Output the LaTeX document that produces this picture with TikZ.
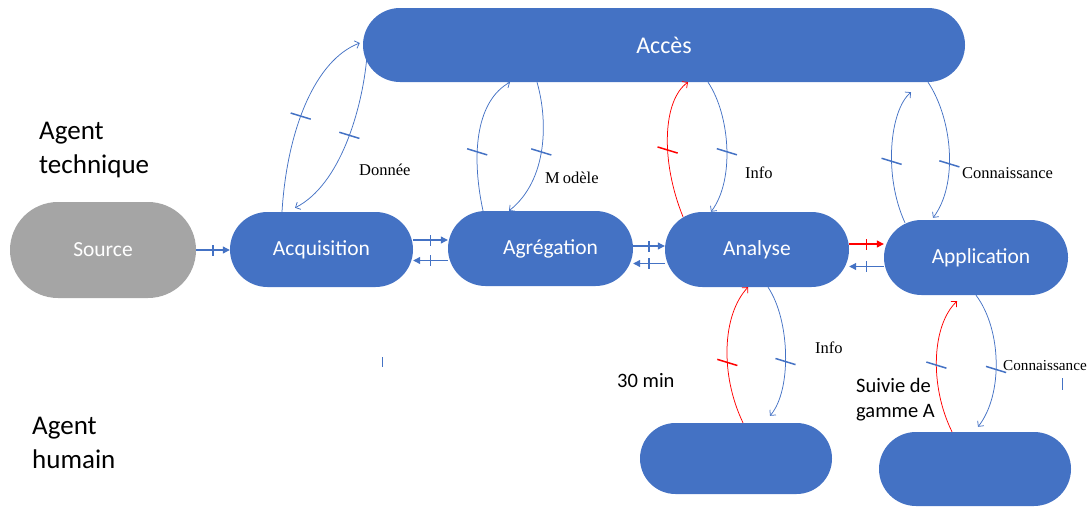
\documentclass[tikz,border=0pt]{standalone}
\usepackage{fontspec}
\setmainfont{Carlito}
\newfontfamily\notefont{Liberation Serif}
\usetikzlibrary{shapes.misc,arrows.meta}
\definecolor{boxblue}{HTML}{4472C4}
\definecolor{boxgray}{HTML}{A5A5A5}
\definecolor{linkred}{HTML}{FF0000}

\begin{document}
\begin{tikzpicture}[x=1pt,y=-1pt,
  stage/.style={rounded rectangle, fill=boxblue, draw=none, text=white, inner sep=0pt,
    font=\fontsize{21.5}{24}\selectfont},
  % straight exchanges between neighbouring stages
  link/.style={line width=1.1pt, draw=boxblue, -{Triangle[length=7pt,width=7pt]}},
  redlink/.style={link, draw=linkred},
  vtick/.style={fill=boxblue, draw=none, inner sep=0pt, minimum width=1.5pt, minimum height=11pt},
  vtickred/.style={vtick, fill=linkred},
  % curved exchanges with the access layer and the operators
  flow/.style={line width=0.75pt, draw=boxblue, -{Straight Barb[length=4pt,width=8pt]}},
  redflow/.style={flow, draw=linkred},
  ctick/.style={fill=boxblue, draw=none, inner sep=0pt, minimum width=21pt, minimum height=1.5pt, rotate=-17},
  ctickred/.style={ctick, fill=linkred},
  note/.style={inner sep=0pt, font=\notefont\fontsize{16.5}{18}\selectfont},
  agent/.style={inner sep=0pt, font=\fontsize{27}{30}\selectfont},
  side/.style={inner sep=0pt, font=\fontsize{20.5}{24}\selectfont},
]
\useasboundingbox (0,0) rectangle (1089,506);

% stages
\node[stage, minimum width=602pt, minimum height=74pt, font=\fontsize{24}{28}\selectfont] (acces) at (664,45) {Accès};
\node[stage, fill=boxgray, minimum width=186pt, minimum height=96pt] (source) at (103,250) {Source};
\node[stage, minimum width=183pt, minimum height=75pt] (acq) at (321.5,249.5) {Acquisition};
\node[stage, minimum width=185pt, minimum height=75pt] (agr) at (540.5,248.5) {\hspace*{20pt}Agrégation};
\node[stage, minimum width=184pt, minimum height=75pt] (ana) at (757,249.5) {Analyse};
\node[stage, minimum width=184pt, minimum height=75pt] (app) at (976,257.5) {\hspace*{10pt}Application};
\node[stage, minimum width=192pt, minimum height=71pt] (hum1) at (736,458.5) {};
\node[stage, minimum width=192pt, minimum height=74pt] (hum2) at (975,469) {};

% straight exchanges
\draw[link] (source.east) -- (source.east -| acq.west) node[pos=.5,vtick]{};
\draw[link] ([yshift=9.5pt]acq.east) -- ([yshift=9.5pt]acq.east -| agr.west) node[pos=.5,vtick]{};
\draw[link] ([yshift=-12pt]agr.west) -- ([yshift=-12pt]agr.west -| acq.east) node[pos=.5,vtick]{};
\draw[link] ([yshift=2.5pt]agr.east) -- ([yshift=2.5pt]agr.east -| ana.west) node[pos=.5,vtick]{};
\draw[link] ([yshift=-14pt]ana.west) -- ([yshift=-14pt]ana.west -| agr.east) node[pos=.5,vtick]{};
\draw[redlink] ([yshift=5.5pt]ana.east) -- ([yshift=5.5pt]ana.east -| app.west) node[pos=.5,vtickred]{};
\draw[link] ([yshift=-9pt]app.west) -- ([yshift=-9pt]app.west -| ana.east) node[pos=.5,vtick]{};

% acquisition <-> acces
\draw[flow] ([xshift=-39.5pt]acq.north) .. controls (287,130) and (315,60) ..
  ([xshift=-3pt,yshift=2pt]acces.west) node[pos=.43,ctick]{};
\draw[flow] ([xshift=4pt,yshift=-13pt]acces.west) .. controls (362,110) and (340,185) ..
  ([xshift=-26.5pt,yshift=4pt]acq.north) node[pos=.45,ctick]{};

% agregation <-> acces
\draw[flow] ([xshift=-57.5pt]agr.north) .. controls (470,150) and (478,100) ..
  ([xshift=-154pt]acces.south) node[pos=.35,ctick]{};
\draw[flow] ([xshift=-127pt]acces.south) .. controls (548,120) and (548,180) ..
  ([xshift=-31.5pt]agr.north) node[pos=.52,ctick]{};

% analyse <-> acces
\draw[redflow] ([xshift=-74pt,yshift=-5pt]ana.north) .. controls (660,160) and (663,100) ..
  ([xshift=24pt]acces.south) node[pos=.4,ctickred]{};
\draw[flow] ([xshift=44pt]acces.south) .. controls (730,115) and (735,180) ..
  ([xshift=-46pt]ana.north) node[pos=.53,ctick]{};

% application <-> acces
\draw[flow] ([xshift=-71pt,yshift=-3pt]app.north) .. controls (883,175) and (890,110) ..
  ([xshift=247pt,yshift=-10pt]acces.south) node[pos=.4,ctick]{};
\draw[flow] ([xshift=264pt]acces.south) .. controls (953,120) and (958,185) ..
  ([xshift=-43pt,yshift=2pt]app.north) node[pos=.58,ctick]{};

% operators <-> analyse / application
\draw[redflow] ([xshift=7pt]hum1.north) .. controls (720,375) and (722,315) ..
  ([xshift=-9pt]ana.south) node[pos=.4,ctickred]{};
\draw[flow] ([xshift=11pt]ana.south) .. controls (790,320) and (792,390) ..
  ([xshift=34pt,yshift=7pt]hum1.north) node[pos=.55,ctick]{};
\draw[redflow] ([xshift=-23pt]hum2.north) .. controls (929,385) and (932,325) ..
  ([xshift=-19pt,yshift=-6pt]app.south) node[pos=.45,ctick]{};
\draw[flow] (app.south) .. controls (1002,330) and (1003,395) ..
  ([xshift=3pt,yshift=5pt]hum2.north) node[pos=.55,ctick]{};

% flow labels
\node[note, anchor=west] (tDonnee) at (359,170) {Donnée};
\node[note, anchor=west] (tModele) at (545,178) {M\kern3pt odèle};
\node[note, anchor=west] (tInfoA) at (745,173) {Info};
\node[note, anchor=west] (tConnA) at (962,173) {Connaissance};
\node[note, anchor=west] (tInfoB) at (815,348) {Info};
\node[note, anchor=west, font=\notefont\fontsize{15.2}{18}\selectfont] (tConnB) at (1003,366) {Connaissance};

% agent rows
\node[agent, anchor=base west] (agT1) at (39,139) {Agent};
\node[agent, anchor=base west] (agT2) at (39,173) {technique};
\node[agent, anchor=base west] (agH1) at (32,434) {Agent};
\node[agent, anchor=base west] (agH2) at (32,468) {humain};

% operator notes
\node[side, anchor=base west] (tMin) at (617,387) {30 min};
\node[side, anchor=base west] (tSuivi1) at (856,392) {Suivie de};
\node[side, anchor=base west] (tSuivi2) at (856,417) {gamme A};

% loose marks
\draw[line width=1.5pt, boxblue] (382.5,357) -- (382.5,367);
\draw[line width=1.5pt, boxblue] (1062.5,378) -- (1062.5,390);
\end{tikzpicture}
\end{document}
